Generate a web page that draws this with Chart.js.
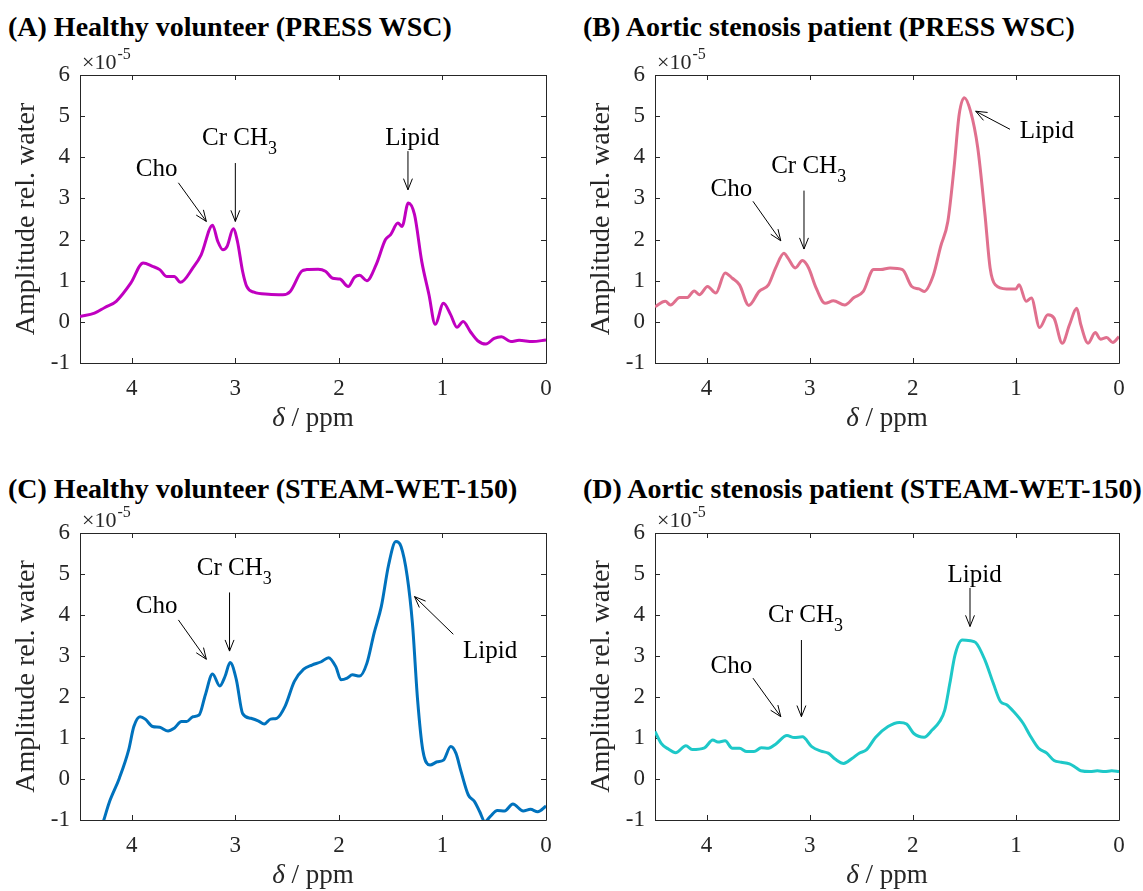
<!DOCTYPE html>
<html>
<head>
<meta charset="utf-8">
<script src="https://cdn.jsdelivr.net/npm/chart.js@4.4.1/dist/chart.umd.min.js"></script>
<style>
  body { margin: 0; background: #fff; width: 1143px; height: 891px; position: relative; overflow: hidden; font-family: "Liberation Serif", serif; }
  .panel { position: absolute; }
  .title { position: absolute; font-weight: bold; font-size: 28px; color: #000; white-space: nowrap; line-height: 30px; }
  .preload { position: absolute; left: -500px; top: 0; font-size: 20px; }
</style>
</head>
<body>
<div class="title" style="left:8px;top:12px">(A) Healthy volunteer (PRESS WSC)</div>
<div class="title" style="left:583px;top:12px">(B) Aortic stenosis patient (PRESS WSC)</div>
<div class="title" style="left:8px;top:474px">(C) Healthy volunteer (STEAM-WET-150)</div>
<div class="title" style="left:583px;top:474px">(D) Aortic stenosis patient (STEAM-WET-150)</div>
<div class="preload">Cho <i>δ</i> ppm 0123456789</div>

<div class="panel" style="left:0px;top:40px"><canvas id="chartA" width="570" height="400"></canvas></div>
<div class="panel" style="left:575px;top:40px"><canvas id="chartB" width="568" height="400"></canvas></div>
<div class="panel" style="left:0px;top:498px"><canvas id="chartC" width="570" height="393"></canvas></div>
<div class="panel" style="left:575px;top:498px"><canvas id="chartD" width="568" height="393"></canvas></div>

<script>
// chemical shift (ppm) and amplitude (x 1e-5, relative to water)
const ppmA = [4.50,4.36,4.26,4.15,4.01,3.89,3.80,3.73,3.66,3.59,3.53,3.41,3.33,3.22,3.17,3.12,3.08,3.02,2.98,2.93,2.89,2.82,2.68,2.54,2.47,2.36,2.31,2.20,2.13,2.06,1.99,1.91,1.85,1.80,1.73,1.64,1.55,1.50,1.43,1.39,1.33,1.27,1.20,1.13,1.07,0.99,0.92,0.86,0.80,0.73,0.66,0.58,0.50,0.43,0.34,0.26,0.13,0.00];
const ampA = [0.13,0.21,0.35,0.50,0.94,1.43,1.35,1.27,1.10,1.10,0.96,1.31,1.63,2.35,1.96,1.75,1.83,2.26,1.96,1.23,0.86,0.72,0.67,0.66,0.74,1.23,1.27,1.28,1.23,1.06,1.04,0.86,1.08,1.13,1.00,1.39,2.00,2.12,2.40,2.32,2.89,2.61,1.47,0.66,-0.06,0.45,0.17,-0.13,0.01,-0.24,-0.46,-0.54,-0.40,-0.36,-0.48,-0.45,-0.48,-0.44];

const ppmB = [4.50,4.40,4.35,4.26,4.19,4.12,4.07,3.99,3.91,3.82,3.75,3.68,3.59,3.49,3.40,3.33,3.25,3.21,3.14,3.07,3.01,2.94,2.85,2.77,2.66,2.57,2.48,2.38,2.31,2.22,2.10,2.01,1.94,1.89,1.80,1.73,1.66,1.60,1.55,1.50,1.44,1.37,1.30,1.25,1.20,1.09,1.00,0.97,0.90,0.85,0.77,0.69,0.63,0.55,0.48,0.41,0.37,0.30,0.23,0.18,0.12,0.06,0.00];
const ampB = [0.37,0.50,0.41,0.59,0.59,0.75,0.66,0.86,0.70,1.19,1.06,0.90,0.40,0.74,0.90,1.31,1.67,1.55,1.31,1.49,1.31,0.84,0.45,0.51,0.41,0.59,0.74,1.27,1.27,1.31,1.27,0.86,0.80,0.74,1.14,1.83,2.44,3.74,5.04,5.45,5.12,4.23,2.61,1.31,0.90,0.80,0.80,0.90,0.50,0.58,-0.14,0.17,0.09,-0.52,-0.07,0.33,-0.07,-0.52,-0.26,-0.42,-0.38,-0.50,-0.36];

const ppmC = [4.36,4.27,4.22,4.12,4.03,3.98,3.92,3.87,3.80,3.73,3.65,3.59,3.52,3.47,3.41,3.35,3.29,3.22,3.15,3.10,3.05,2.99,2.93,2.85,2.78,2.72,2.66,2.60,2.52,2.43,2.34,2.26,2.17,2.10,2.03,1.98,1.92,1.87,1.80,1.73,1.66,1.59,1.52,1.45,1.40,1.34,1.29,1.24,1.19,1.12,1.05,0.99,0.92,0.87,0.82,0.75,0.69,0.64,0.59,0.54,0.47,0.40,0.32,0.22,0.15,0.08,0.00];
const ampC = [-1.70,-1.00,-0.59,0.02,0.71,1.28,1.52,1.46,1.28,1.26,1.17,1.24,1.40,1.40,1.52,1.56,2.05,2.56,2.27,2.50,2.84,2.42,1.60,1.48,1.42,1.34,1.46,1.48,1.77,2.38,2.68,2.78,2.86,2.96,2.74,2.42,2.46,2.54,2.51,2.82,3.56,4.21,5.22,5.79,5.67,4.94,3.80,1.93,0.71,0.34,0.42,0.46,0.79,0.63,0.18,-0.39,-0.55,-0.80,-1.04,-0.92,-0.77,-0.78,-0.61,-0.78,-0.74,-0.80,-0.66];

const ppmD = [4.50,4.44,4.37,4.30,4.20,4.14,4.02,3.94,3.89,3.82,3.75,3.68,3.61,3.54,3.47,3.40,3.33,3.22,3.15,3.07,2.98,2.89,2.82,2.75,2.67,2.59,2.52,2.45,2.36,2.24,2.13,2.06,1.99,1.89,1.81,1.74,1.69,1.64,1.59,1.52,1.44,1.39,1.30,1.22,1.15,1.09,1.02,0.93,0.86,0.78,0.70,0.63,0.56,0.48,0.42,0.37,0.28,0.21,0.14,0.07,0.00];
const ampD = [1.16,0.87,0.73,0.64,0.81,0.72,0.76,0.95,0.90,0.93,0.75,0.75,0.67,0.67,0.76,0.75,0.85,1.06,1.01,1.03,0.79,0.68,0.63,0.48,0.38,0.50,0.63,0.71,1.02,1.28,1.38,1.34,1.11,1.02,1.20,1.40,1.68,2.34,3.03,3.39,3.37,3.33,2.90,2.34,1.89,1.81,1.64,1.36,1.05,0.75,0.63,0.45,0.41,0.37,0.28,0.20,0.18,0.20,0.18,0.20,0.18];

const xTicks = [0, 1, 2, 3, 4];
const yTicks = [-1, 0, 1, 2, 3, 4, 5, 6];

// peak labels: label position and arrow (tail -> head) in data units
const notesA = [
    { text: 'Cho', at: [3.76, 3.70], from: [3.55, 3.38], to: [3.28, 2.44] },
    { text: 'Cr CH', sub: '3', at: [2.96, 4.47], from: [3.00, 3.86], to: [3.00, 2.44] },
    { text: 'Lipid', at: [1.29, 4.47], from: [1.333, 4.15], to: [1.333, 3.21] }
];
const notesB = [
    { text: 'Cho', at: [3.76, 3.21], from: [3.55, 2.93], to: [3.28, 1.97] },
    { text: 'Cr CH', sub: '3', at: [3.01, 3.78], from: [3.055, 3.19], to: [3.055, 1.77] },
    { text: 'Lipid', at: [0.70, 4.62], from: [1.057, 4.68], to: [1.39, 5.12] }
];
const notesC = [
    { text: 'Cho', at: [3.76, 4.21], from: [3.55, 3.88], to: [3.28, 2.92] },
    { text: 'Cr CH', sub: '3', at: [3.01, 5.14], from: [3.056, 4.55], to: [3.056, 3.12] },
    { text: 'Lipid', at: [0.54, 3.11], from: [0.895, 3.53], to: [1.27, 4.45] }
];
const notesD = [
    { text: 'Cho', at: [3.76, 2.74], from: [3.55, 2.46], to: [3.28, 1.52] },
    { text: 'Cr CH', sub: '3', at: [3.04, 4.00], from: [3.08, 3.39], to: [3.08, 1.52] },
    { text: 'Lipid', at: [1.40, 4.96], from: [1.445, 4.66], to: [1.445, 3.72] }
];

const SERIF = '"Liberation Serif", serif';
const AXIS = '#262626';

// MATLAB-like box, inward ticks, labels and arrows
const matlabBox = {
    id: 'matlabBox',
    beforeDatasetsDraw(chart) {
        const { ctx, chartArea: a, scales: { x, y } } = chart;
        ctx.save();
        ctx.strokeStyle = AXIS;
        ctx.lineWidth = 1;
        ctx.beginPath();
        ctx.rect(Math.round(a.left) + 0.5, Math.round(a.top) + 0.5, Math.round(a.width), Math.round(a.height));
        const tl = 5;
        xTicks.forEach(v => {
            const px = Math.round(x.getPixelForValue(v)) + 0.5;
            ctx.moveTo(px, a.bottom); ctx.lineTo(px, a.bottom - tl);
            ctx.moveTo(px, a.top); ctx.lineTo(px, a.top + tl);
        });
        yTicks.forEach(v => {
            const py = Math.round(y.getPixelForValue(v)) + 0.5;
            ctx.moveTo(a.left, py); ctx.lineTo(a.left + tl, py);
            ctx.moveTo(a.right, py); ctx.lineTo(a.right - tl, py);
        });
        ctx.stroke();
        ctx.restore();
    },
    afterDatasetsDraw(chart, args, opts) {
        const { ctx, chartArea: a, scales: { x, y } } = chart;
        ctx.save();
        ctx.fillStyle = '#000';
        ctx.strokeStyle = '#000';
        ctx.lineWidth = 1;

        (opts.notes || []).forEach(n => {
            // label
            ctx.font = '25px ' + SERIF;
            const w1 = ctx.measureText(n.text).width;
            let w2 = 0;
            if (n.sub) { ctx.font = '18px ' + SERIF; w2 = ctx.measureText(n.sub).width; }
            const cx = x.getPixelForValue(n.at[0]);
            const cy = y.getPixelForValue(n.at[1]);
            const x0 = cx - (w1 + w2) / 2;
            ctx.textBaseline = 'middle';
            ctx.textAlign = 'left';
            ctx.font = '25px ' + SERIF;
            ctx.fillText(n.text, x0, cy);
            if (n.sub) {
                ctx.font = '18px ' + SERIF;
                ctx.fillText(n.sub, x0 + w1, cy + 11);
            }
            // arrow
            const x1 = x.getPixelForValue(n.from[0]), y1 = y.getPixelForValue(n.from[1]);
            const x2 = x.getPixelForValue(n.to[0]), y2 = y.getPixelForValue(n.to[1]);
            const ang = Math.atan2(y2 - y1, x2 - x1);
            const hl = 12, ha = 0.38;
            ctx.beginPath();
            ctx.moveTo(x1, y1); ctx.lineTo(x2, y2);
            ctx.moveTo(x2 - hl * Math.cos(ang - ha), y2 - hl * Math.sin(ang - ha));
            ctx.lineTo(x2, y2);
            ctx.lineTo(x2 - hl * Math.cos(ang + ha), y2 - hl * Math.sin(ang + ha));
            ctx.stroke();
        });

        // exponent above the y axis
        ctx.fillStyle = AXIS;
        ctx.textAlign = 'left';
        ctx.textBaseline = 'alphabetic';
        ctx.font = '22px ' + SERIF;
        ctx.fillText('\u00d710', a.left + 2, a.top - 6);
        const wx = ctx.measureText('\u00d710').width;
        ctx.font = '16px ' + SERIF;
        ctx.fillText('-5', a.left + 3 + wx, a.top - 16);

        // x axis title: italic delta
        ctx.font = 'italic 27px ' + SERIF;
        const wd = ctx.measureText('\u03b4').width;
        ctx.font = '27px ' + SERIF;
        const wr = ctx.measureText(' / ppm').width;
        const sx = (a.left + a.right) / 2 - (wd + wr) / 2;
        const ty = a.bottom + 56;
        ctx.textBaseline = 'middle';
        ctx.font = 'italic 27px ' + SERIF;
        ctx.fillText('\u03b4', sx, ty);
        ctx.font = '27px ' + SERIF;
        ctx.fillText(' / ppm', sx + wd, ty);

        // y axis title
        ctx.translate(a.left - 53, (a.top + a.bottom) / 2);
        ctx.rotate(-Math.PI / 2);
        ctx.textAlign = 'center';
        ctx.font = '28px ' + SERIF;
        ctx.fillText('Amplitude rel. water', 0, 0);
        ctx.restore();
    }
};

function makePanel(id, ppm, amp, color, notes, plotH) {
    const canvas = document.getElementById(id);
    const top = 35, left = 80, right = 24;
    return new Chart(canvas, {
        type: 'line',
        data: {
            datasets: [{
                data: ppm.map((p, i) => ({ x: p, y: amp[i] })),
                borderColor: color,
                borderWidth: 3,
                pointRadius: 0,
                cubicInterpolationMode: 'monotone',
                fill: false
            }]
        },
        options: {
            responsive: false,
            animation: false,
            layout: { padding: { top: top, right: right, left: 0, bottom: 0 } },
            plugins: {
                legend: { display: false },
                tooltip: { enabled: false },
                matlabBox: { notes: notes }
            },
            scales: {
                x: {
                    type: 'linear',
                    reverse: true,
                    min: 0,
                    max: 4.5,
                    grid: { display: false, drawTicks: false },
                    border: { display: false },
                    afterFit: s => { s.height = canvas.height - top - plotH; },
                    ticks: {
                        stepSize: 1,
                        includeBounds: false,
                        padding: 12,
                        color: AXIS,
                        font: { family: SERIF, size: 23 },
                        maxRotation: 0
                    }
                },
                y: {
                    min: -1,
                    max: 6,
                    grid: { display: false, drawTicks: false },
                    border: { display: false },
                    afterFit: s => { s.width = left; },
                    ticks: {
                        stepSize: 1,
                        padding: 10,
                        color: AXIS,
                        font: { family: SERIF, size: 23 }
                    }
                }
            }
        },
        plugins: [matlabBox]
    });
}

function drawAll() {
    makePanel('chartA', ppmA, ampA, '#C000C0', notesA, 288);
    makePanel('chartB', ppmB, ampB, '#E0708E', notesB, 288);
    makePanel('chartC', ppmC, ampC, '#0072BD', notesC, 287);
    makePanel('chartD', ppmD, ampD, '#1EC8C8', notesD, 287);
}

// make sure the serif face is ready before the canvases use it
Promise.all([
    document.fonts.load('25px "Liberation Serif"'),
    document.fonts.load('italic 27px "Liberation Serif"')
]).then(drawAll, drawAll);
</script>
</body>
</html>
